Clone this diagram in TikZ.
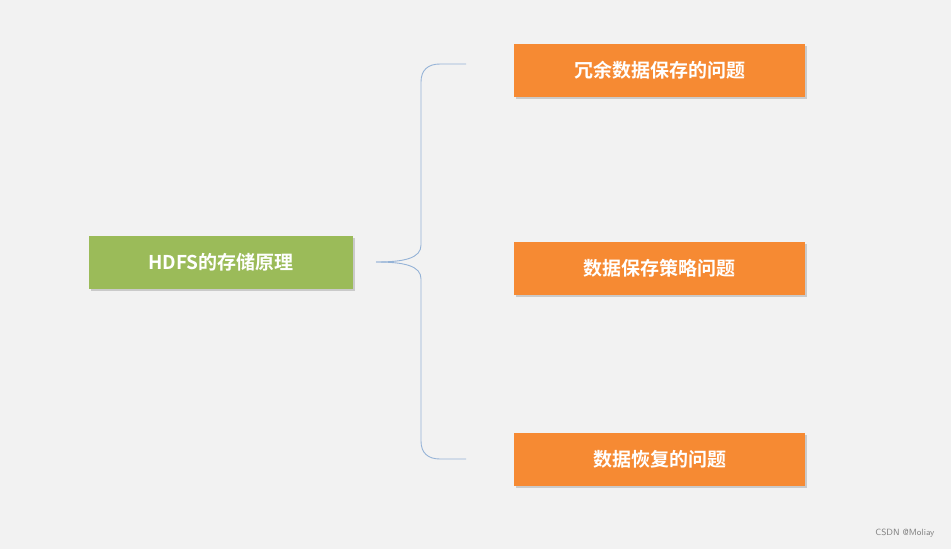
\documentclass[tikz,border=0pt]{standalone}
\usepackage{fontspec}
\newfontfamily\cjk{Noto Sans CJK SC}[BoldFont={Noto Sans CJK SC Bold}]
\usetikzlibrary{shadows}
\definecolor{bg}{HTML}{F2F2F2}
\definecolor{gbox}{HTML}{9BBB59}
\definecolor{obox}{HTML}{F68A33}
\definecolor{brace}{HTML}{95B3D7}
\tikzset{
 box/.style={draw=none,minimum height=53pt,font=\cjk\bfseries\fontsize{19}{22}\selectfont,text=white,
   drop shadow={shadow xshift=2pt,shadow yshift=-2pt,opacity=0.35}},
 gb/.style={box,fill=gbox,minimum width=264pt},
 ob/.style={box,fill=obox,minimum width=291pt},
}
\begin{document}
\begin{tikzpicture}[x=1pt,y=-1pt]
\fill[bg] (0,0) rectangle (951,549);
\useasboundingbox (0,0) rectangle (951,549);
\node[gb] (root) at (221,262) {HDFS的存储原理};
\node[ob] (a) at (659.5,70) {冗余数据保存的问题};
\node[ob] (b) at (659.5,268.5) {数据保存策略问题};
\node[ob] (c) at (659.5,459) {数据恢复的问题};
\coordinate (s) at (376,262);
\coordinate (t) at (466,64);
\coordinate (u) at (466,459);
\draw[brace,line width=0.9pt] (s) .. controls (405,262) and (421,258) .. (421,245)
  -- (421,82) .. controls (421,70) and (428,64) .. (440,64) -- (t);
\draw[brace,line width=0.9pt] (s) .. controls (405,262) and (421,266) .. (421,279)
  -- (421,441) .. controls (421,453) and (428,459) .. (440,459) -- (u);
\node[font=\fontsize{9}{11}\selectfont\sffamily,text=gray,anchor=east] (w) at (938,533) {CSDN @Moliay};
\end{tikzpicture}
\end{document}
